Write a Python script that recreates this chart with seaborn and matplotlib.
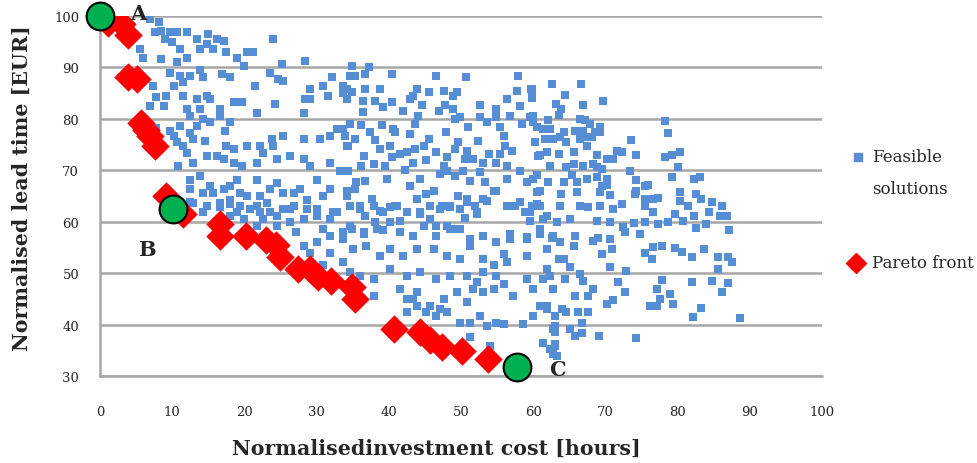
import numpy as np
import pandas as pd
import matplotlib.pyplot as plt
import seaborn as sns
from matplotlib.lines import Line2D

# feasible solutions
feasible_cost = [
    6.9, 8.1, 7.6, 8.5, 9.0, 9.7, 10.6, 12.0, 9.9, 11.1,
    13.4, 15.0, 16.2, 17.1, 14.8, 15.7, 13.9, 17.5, 18.9, 20.3,
    21.2, 23.9, 5.5, 6.0, 8.5, 10.6, 12.0, 25.2, 28.4, 19.9,
    9.7, 11.1, 10.2, 11.5, 12.5, 13.9, 14.3, 16.9, 18.0, 21.5,
    23.5, 24.7, 25.4, 29.1, 29.1, 30.9, 32.1, 34.2, 7.4, 7.8,
    9.2, 11.5, 13.4, 14.8, 15.2, 13.9, 16.6, 18.5, 19.6, 21.7,
    24.2, 28.2, 28.4, 31.6, 33.7, 6.9, 8.8, 12.0, 12.5,
    6.9, 7.8, 9.7, 10.2, 11.1, 12.5, 13.4, 14.3, 15.2, 16.6,
    17.3, 18.0, 10.6, 11.5, 12.9, 14.5, 17.5, 18.5, 20.3, 22.2,
    22.6, 23.8, 24.0, 25.4, 28.2, 30.5, 31.9, 32.8, 34.2, 12.0,
    12.9, 14.8, 16.2, 17.1, 18.5, 19.6, 21.7, 24.5, 26.3, 28.2,
    29.1, 31.9, 33.2, 10.8,
    12.5, 13.9, 15.2, 12.5, 14.3, 15.7, 17.1, 18.0, 18.9, 19.4,
    20.3, 21.7, 22.2, 23.5, 24.5, 25.4, 26.8, 27.7, 28.6, 30.0,
    30.9, 31.9, 32.8, 34.2, 12.9, 14.8, 16.6, 18.0, 19.4, 20.8,
    22.2, 23.1, 24.5, 26.3, 28.2, 30.0, 31.9, 19.9, 18.0,
    12.5, 14.3, 16.6, 18.0, 18.9, 21.7, 22.6, 23.5, 24.5,
    25.4, 26.3, 27.2, 28.2, 29.1, 30.0, 30.9, 31.9, 32.3, 33.7,
    30.9, 31.9, 33.7, 30.0, 26.8, 28.6, 21.7,
    34.9, 37.2, 34.6, 35.3, 36.7, 40.4, 46.6, 50.7, 57.9,
    33.7, 34.9, 34.2, 36.7, 38.8, 43.9, 45.6, 47.6, 48.9, 49.5,
    36.4, 38.1, 39.2, 40.4, 42.0, 42.9, 43.4, 44.6, 47.0, 47.8,
    48.9, 52.6, 54.8, 56.3, 57.7, 58.2, 59.7, 59.8, 36.4, 44.1,
    34.6, 33.7, 36.2, 39.0, 40.6, 43.6, 49.9, 49.2, 51.0, 52.6,
    53.6, 54.9, 55.4, 56.8, 58.4, 59.6, 60.5, 33.9, 35.3, 37.4,
    38.1, 40.9, 42.9, 45.5, 47.9, 49.6, 52.4, 55.9, 56.1, 60.2,
    34.4, 38.8, 40.1, 40.4, 41.6, 42.5, 43.6, 44.8, 46.6, 49.2,
    50.8, 51.7, 53.1, 53.9, 54.9, 55.4, 57.0, 60.7, 36.5, 36.2,
    37.9, 39.5, 43.4, 45.2, 48.0, 47.6, 50.6,
    34.4, 35.5, 36.7, 39.7, 42.2, 44.3, 42.9, 47.1, 48.0, 49.2,
    50.3, 51.2, 52.6, 53.3, 54.9, 56.3, 56.3, 58.2, 59.1, 60.0,
    60.5, 34.2, 35.3, 37.6, 40.9, 43.9, 45.2, 46.2, 49.6, 50.8,
    51.9, 53.1, 54.5, 56.3, 57.5, 58.9, 59.8, 36.0, 36.7, 38.8,
    40.2, 42.5, 44.3, 45.7, 47.3, 48.5, 50.6, 52.2, 59.6, 34.9,
    36.5, 38.1, 39.2, 41.5, 43.4, 46.6, 48.5, 49.4, 53.1, 56.8,
    59.1,
    34.6, 36.0, 37.9, 39.2, 41.1, 42.5, 44.3, 45.7, 47.1, 48.5,
    49.9, 50.8, 52.2, 53.6, 56.3, 58.2, 59.6, 60.9, 61.9, 34.6,
    36.5, 38.3, 40.2, 41.5, 43.4, 44.8, 46.6, 48.0, 49.9, 51.2,
    53.1, 54.9, 56.8, 59.1, 60.9, 62.8, 33.7, 35.1, 36.9, 38.8,
    40.2, 42.0, 43.9, 46.2, 48.0, 49.9, 51.2, 53.1, 54.5, 55.9,
    56.3, 59.1, 61.9, 63.5, 34.6, 36.0, 37.9, 40.2, 42.5, 44.3,
    46.6, 48.5, 50.8, 52.2, 53.1, 54.9,
    37.9, 41.5, 42.5, 43.9, 45.7, 47.1, 47.6, 49.4, 50.8, 51.7,
    53.1, 54.5, 55.9, 57.2, 59.1, 60.0, 60.9, 61.4, 62.3, 62.8,
    61.9, 60.0, 42.5, 43.9, 43.4, 45.2, 46.6, 48.0, 49.9, 51.2,
    52.6, 53.6, 54.9, 55.9, 58.6, 62.8, 63.0, 63.3, 61.4, 51.2,
    54.0,
    59.8, 59.8, 62.6, 66.6, 64.4, 63.2, 63.8, 63.6, 66.9, 69.6,
    60.0, 60.0, 62.1, 66.5, 67.2, 67.9, 69.3, 60.5, 61.4, 62.3,
    64.2, 65.8, 66.9, 68.6, 69.2, 60.3, 61.6, 62.8, 63.7, 64.6,
    66.5, 67.4, 68.1, 73.5, 78.3, 78.7, 60.9, 61.9, 63.5, 65.6,
    67.4, 68.8, 70.2, 71.1, 71.6, 72.3, 74.2, 78.3, 79.2, 80.3,
    62.3, 64.6, 65.6, 66.9, 68.3, 68.8, 69.5, 73.4, 80.1, 60.5,
    62.1, 64.2, 65.3, 66.0, 67.4, 68.8, 70.2, 69.5, 70.2, 74.2,
    75.5, 75.9, 79.2, 82.2, 83.1, 60.9, 63.9, 66.0, 69.3, 70.6,
    74.3, 74.1, 75.5, 76.6, 77.3, 80.3, 80.3, 82.6, 83.3, 84.7,
    60.5, 63.7, 66.5, 67.6, 69.3, 71.1, 72.3, 75.5, 76.6, 79.6,
    81.5, 82.2, 84.3, 85.9, 86.8, 86.1, 61.4, 63.3, 65.1, 68.8,
    70.6, 72.5, 73.9, 75.5, 77.3, 78.6, 80.8, 82.5, 83.9, 87.1,
    60.9, 62.6, 63.7, 65.8, 68.3, 69.0, 70.6, 65.6, 69.5, 70.9,
    72.7, 74.8, 75.5, 76.6, 77.8, 79.7, 80.6, 82.0, 83.7, 85.6,
    87.0, 87.5, 61.9, 64.2, 65.1, 70.6, 72.9, 76.4, 85.6,
    61.9, 62.8, 65.1, 66.5, 66.9, 64.4, 70.6, 72.9, 71.8, 72.7,
    68.3, 65.8, 67.6, 70.2, 71.1, 77.8, 77.1, 77.5, 76.2, 77.1,
    78.9, 79.3, 82.0, 84.7, 87.0, 86.2, 83.2, 82.1, 88.6, 61.9,
    64.0, 64.6, 63.0, 66.2, 67.6, 66.7, 63.0, 63.0, 65.1, 65.8,
    66.8, 69.1, 74.3, 63.0, 62.3, 62.8,
]
feasible_time = [
    99.5, 98.8, 96.8, 97.1, 95.5, 96.8, 96.8, 96.8, 94.9, 93.6,
    95.5, 96.5, 95.5, 95.2, 94.5, 93.6, 93.6, 92.9, 91.9, 92.9,
    92.9, 95.6, 93.6, 91.9, 91.6, 91.0, 91.9, 90.6, 91.3, 90.3,
    89.0, 88.4, 86.4, 87.1, 88.4, 89.4, 88.1, 88.7, 88.1, 86.3,
    89.0, 87.7, 87.4, 85.8, 83.8, 86.4, 88.1, 85.8, 86.4, 84.2,
    84.5, 84.5, 83.8, 84.5, 83.8, 81.9, 81.9, 83.2, 83.2, 81.2,
    82.9, 81.2, 83.8, 84.5, 85.1, 82.5, 82.5, 81.9, 80.6,
    78.6, 78.3, 77.7, 76.7, 78.6, 77.3, 78.6, 79.9, 79.3, 80.6,
    77.7, 79.3, 75.4, 74.7, 76.0, 75.7, 74.7, 74.1, 74.7, 74.7,
    73.4, 76.0, 74.7, 76.7, 76.0, 76.0, 76.7, 78.0, 74.7, 73.4,
    71.5, 72.8, 72.8, 72.1, 71.5, 70.8, 71.5, 72.1, 72.8, 72.1,
    70.8, 71.5, 69.9, 70.8,
    68.2, 68.9, 66.9, 66.3, 65.6, 65.6, 66.3, 66.9, 68.2, 65.6,
    65.0, 68.2, 65.0, 66.3, 67.6, 65.6, 65.6, 66.3, 64.3, 68.2,
    65.0, 66.3, 61.8, 65.0, 63.7, 63.1, 63.7, 64.3, 63.1, 62.4,
    61.8, 63.7, 61.1, 62.4, 60.5, 62.4, 60.5, 60.5, 61.1,
    63.8, 61.8, 62.8, 63.4, 61.8, 63.1, 60.5, 61.8, 59.2,
    62.5, 59.9, 57.9, 55.3, 54.0, 56.0, 58.6, 57.3, 61.8, 57.9,
    51.5, 54.0, 52.1, 61.2, 63.1, 62.5, 59.2,
    90.3, 90.0, 88.4, 88.4, 88.7, 88.7, 88.4, 88.1, 88.3,
    86.4, 85.2, 83.9, 85.8, 85.8, 85.8, 85.3, 85.5, 84.5, 85.2,
    83.5, 83.5, 82.2, 83.2, 81.6, 83.9, 84.5, 82.6, 81.6, 82.6,
    81.9, 82.7, 81.9, 83.9, 85.5, 82.4, 85.8, 84.1, 81.3, 80.6,
    79.0, 78.0, 78.7, 78.7, 78.0, 79.0, 80.3, 80.0, 78.4, 80.3,
    79.3, 80.3, 78.4, 80.6, 79.0, 80.3, 78.4, 76.7, 76.1, 77.4,
    75.8, 77.4, 77.1, 76.1, 77.5, 75.4, 75.6, 76.7, 74.8, 75.4,
    74.8, 74.1, 74.8, 72.5, 73.2, 73.5, 74.1, 74.8, 73.5, 74.1,
    73.8, 72.2, 71.5, 73.2, 71.5, 73.2, 73.8, 72.8, 72.8, 70.9,
    71.2, 70.9, 71.5, 71.9, 72.5, 70.9, 72.2,
    69.9, 67.7, 68.0, 68.3, 70.1, 68.3, 67.0, 69.3, 69.9, 68.9,
    69.9, 68.0, 69.6, 67.7, 66.0, 70.9, 68.3, 69.9, 67.7, 68.3,
    65.7, 66.0, 66.4, 64.4, 63.1, 64.4, 65.4, 66.0, 65.0, 64.4,
    63.1, 64.4, 66.0, 63.1, 63.1, 61.8, 63.1, 63.1, 61.2, 62.1,
    62.8, 61.8, 61.5, 60.5, 63.1, 62.8, 60.8, 61.5, 60.2, 58.6,
    57.6, 59.9, 58.3, 60.2, 57.3, 57.3, 58.6, 58.6, 57.3, 57.6,
    57.0,
    63.1, 62.5, 63.1, 61.8, 63.1, 61.8, 61.8, 63.1, 62.5, 63.1,
    62.5, 63.8, 61.8, 64.1, 63.1, 63.8, 61.8, 63.1, 61.2, 59.2,
    57.9, 58.6, 59.9, 57.9, 57.3, 59.2, 59.2, 59.2, 58.6, 56.6,
    57.3, 56.0, 56.6, 56.6, 58.6, 57.3, 56.6, 54.7, 55.3, 53.4,
    54.7, 53.4, 54.7, 54.7, 53.4, 52.8, 55.3, 52.8, 51.5, 53.7,
    52.1, 53.4, 54.7, 52.8, 50.2, 49.5, 48.9, 50.8, 49.5, 50.2,
    48.9, 49.5, 49.5, 48.2, 50.2, 49.5,
    45.6, 46.9, 45.0, 46.3, 43.7, 43.0, 45.0, 46.3, 44.3, 46.9,
    46.3, 46.9, 47.9, 45.6, 48.9, 46.9, 43.7, 48.9, 49.5, 46.9,
    43.0, 41.7, 42.4, 43.7, 45.0, 42.4, 41.7, 42.4, 40.4, 40.4,
    41.7, 39.8, 40.4, 40.1, 40.1, 39.1, 35.9, 33.9, 36.5, 37.5,
    35.9,
    85.8, 84.2, 86.8, 86.7, 84.6, 82.9, 81.9, 80.8, 82.6, 83.5,
    80.6, 79.3, 79.7, 80.0, 79.7, 79.0, 78.5, 78.4, 78.0, 78.0,
    77.5, 77.7, 77.7, 77.4, 77.4, 75.4, 76.1, 76.1, 76.4, 75.4,
    76.1, 76.4, 76.4, 75.8, 79.5, 77.3, 72.9, 73.5, 73.2, 73.5,
    74.8, 72.9, 72.2, 72.2, 73.8, 73.5, 72.9, 72.5, 72.9, 73.6,
    70.9, 70.6, 71.2, 70.9, 71.2, 70.6, 70.3, 69.9, 70.6, 69.0,
    67.8, 67.8, 69.0, 67.7, 68.3, 68.6, 68.3, 67.0, 67.1, 68.2,
    67.0, 67.2, 68.6, 68.3, 68.6, 66.0, 65.4, 65.7, 65.7, 65.1,
    66.0, 65.4, 64.4, 64.5, 64.7, 65.7, 64.1, 65.4, 64.4, 63.9,
    63.4, 63.1, 63.1, 62.8, 63.1, 62.5, 63.5, 63.1, 61.8, 61.5,
    63.1, 61.2, 61.8, 61.2, 61.2, 63.0, 60.5, 59.9, 60.5, 60.2,
    59.9, 58.9, 59.7, 59.9, 59.6, 59.9, 60.2, 58.7, 59.6, 58.3,
    57.6, 56.8, 56.0, 57.3, 56.3, 56.9, 56.6, 55.2, 53.7, 54.6,
    57.9, 57.6, 53.9, 55.0, 55.2, 54.8, 54.1, 53.1, 54.7, 53.1,
    53.2, 52.1, 50.8, 52.7, 51.1, 51.1, 50.5, 52.7, 50.8,
    50.8, 46.9, 51.1, 49.8, 48.5, 48.9, 51.1, 50.5, 48.2, 46.4,
    46.9, 45.6, 45.6, 44.0, 44.7, 48.7, 46.9, 45.0, 43.7, 43.7,
    45.9, 44.0, 48.2, 48.5, 48.0, 46.4, 43.2, 41.4, 41.2, 43.7,
    43.0, 42.4, 41.7, 42.5, 42.4, 40.3, 39.8, 38.5, 39.1, 37.8,
    38.3, 37.7, 37.3, 36.2, 35.3, 34.3,
]

# pareto front
pareto_cost = [1.1, 3.0, 3.9, 3.9, 5.1, 5.7, 6.4, 6.9, 7.6, 9.1,
               11.5, 16.6, 16.6, 20.2, 23.0, 24.4, 24.9, 27.4, 29.1, 30.2,
               32.0, 34.9, 35.3, 40.7, 44.3, 45.7, 47.4, 50.1, 53.7]
pareto_time = [98.6, 98.4, 96.3, 88.1, 87.7, 79.2, 77.8, 76.7, 74.7, 65.0,
               61.5, 59.6, 57.2, 57.2, 56.4, 55.5, 53.1, 50.8, 50.8, 49.2,
               48.5, 47.3, 45.0, 39.1, 38.6, 37.0, 35.6, 34.9, 33.3]

# highlighted solutions
sel_names = ["A", "B", "C"]
sel_cost = [0.0, 10.1, 57.8]
sel_time = [100.0, 62.5, 31.8]

feas = pd.DataFrame({"cost": feasible_cost, "time": feasible_time})
par = pd.DataFrame({"cost": pareto_cost, "time": pareto_time})
sel = pd.DataFrame({"cost": sel_cost, "time": sel_time, "name": sel_names})

sns.set_style("white")
plt.rcParams['font.family'] = ['DejaVu Serif']
plt.rcParams['xtick.major.pad'] = 21
plt.rcParams['ytick.major.pad'] = 15
plt.rcParams['xtick.major.size'] = 0
plt.rcParams['ytick.major.size'] = 0
plt.rcParams['xtick.labelsize'] = 9.5
plt.rcParams['ytick.labelsize'] = 9.5

fig = plt.figure(figsize=(9.77, 4.64), dpi=100)
ax = fig.add_axes([0.1024, 0.1875, 0.739, 0.776])

blue = "#558ed5"
red = "#ff0000"
sns.scatterplot(data=feas, x="cost", y="time", ax=ax, marker="s", s=36,
                color=blue, linewidth=0, zorder=3)
sns.scatterplot(data=par, x="cost", y="time", ax=ax, marker="D", s=210,
                color=red, linewidth=0, zorder=4)
sns.scatterplot(data=sel, x="cost", y="time", ax=ax, marker="o", s=400,
                color="#00b050", edgecolor="black", linewidth=1.5, zorder=5,
                clip_on=False)

# letters next to the highlighted points
offsets = {"A": (5.3, 100.6), "B": (6.5, 54.6), "C": (63.3, 31.4)}
for name in sel_names:
    tx, ty = offsets[name]
    ax.text(tx, ty, name, fontsize=15, fontweight="bold", ha="center",
            va="center", zorder=6, clip_on=False)

ax.set_xlim(0, 100)
ax.set_ylim(30, 100)
ax.set_xticks(np.arange(0, 101, 10))
ax.set_yticks(np.arange(30, 101, 10))
ax.yaxis.grid(True, color="#a6a6a6", linewidth=1.8)
ax.xaxis.grid(False)
ax.set_axisbelow(True)
for side in ["top", "right"]:
    ax.spines[side].set_visible(False)
for side in ["left", "bottom"]:
    ax.spines[side].set_color("#a6a6a6")
    ax.spines[side].set_linewidth(1.8)
ax.set_xlabel("")
ax.set_ylabel("")

fig.text(22 / 977, 1 - 188 / 464, "Normalised lead time [EUR]",
         fontsize=14.8, fontweight="bold", rotation=90, ha="center", va="center")
fig.text(436 / 977, 1 - 449 / 464, "Normalisedinvestment cost [hours]",
         fontsize=14.8, fontweight="bold", ha="center", va="center")

# legend, drawn at its place to the right of the plot
fig.add_artist(Line2D([858 / 977], [1 - 158 / 464], marker="s", color=blue,
                      markersize=6, linestyle="", transform=fig.transFigure))
fig.add_artist(Line2D([856 / 977], [1 - 264 / 464], marker="D", color=red,
                      markersize=10, linestyle="", transform=fig.transFigure))
fig.text(872 / 977, 1 - 158 / 464, "Feasible", fontsize=12, va="center")
fig.text(872 / 977, 1 - 190 / 464, "solutions", fontsize=12, va="center")
fig.text(872 / 977, 1 - 264 / 464, "Pareto front", fontsize=12, va="center")

fig.savefig("out.png", dpi=100)
